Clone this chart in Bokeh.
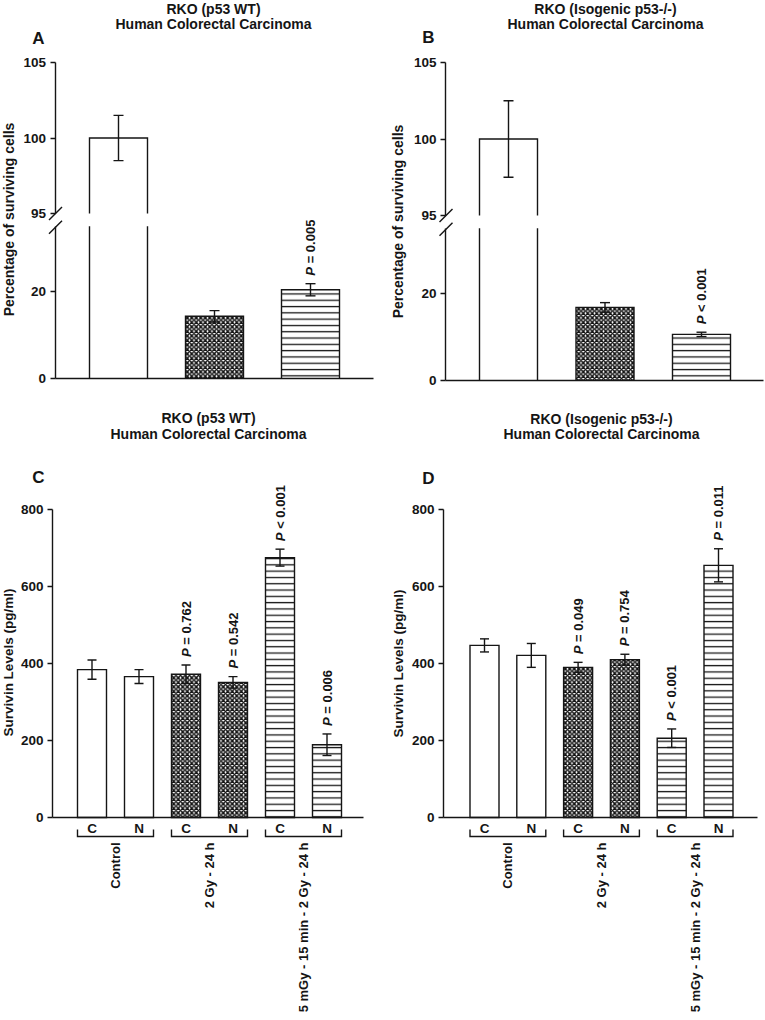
import math
from bokeh.plotting import figure
from bokeh.models import Range1d, LinearAxis, FixedTicker, ColumnDataSource, Whisker, TeeHead
from bokeh.core.properties import value
from bokeh.embed import file_html
from bokeh.resources import INLINE

# ---------------- data ----------------
cell_titles = ["RKO (p53 WT)", "RKO (Isogenic p53-/-)", "RKO (p53 WT)", "RKO (Isogenic p53-/-)"]
subtitle = "Human Colorectal Carcinoma"
panel_letters = ["A", "B", "C", "D"]

surv_ylabel = "Percentage of surviving cells"
surv_ticks_hi = [95, 100, 105]
surv_ticks_lo = [0, 20]
surv_break = [35, 95]          # top of lower segment, bottom of upper segment
surv_patterns = ["blank", "cross", "lines"]

A_values = [100.0, 14.3, 20.4]
A_errors = [1.5, 1.3, 1.4]
A_pvals = ["", "", "= 0.005"]

B_values = [100.0, 16.8, 10.6]
B_errors = [2.5, 1.1, 0.5]
B_pvals = ["", "", "< 0.001"]

svv_ylabel = "Survivin Levels (pg/ml)"
svv_ticks = [0, 200, 400, 600, 800]
groups = ["Control", "2 Gy - 24 h", "5 mGy - 15 min - 2 Gy - 24 h"]
subgroups = ["C", "N"]
svv_patterns = ["blank", "blank", "cross", "cross", "lines", "lines"]

C_values = [384, 366, 372, 351, 675, 189]
C_errors = [25, 18, 24, 15, 22, 28]
C_pvals = ["", "", "= 0.762", "= 0.542", "< 0.001", "= 0.006"]

D_values = [447, 421, 390, 410, 206, 655]
D_errors = [17, 31, 13, 14, 24, 43]
D_pvals = ["", "", "= 0.049", "= 0.754", "< 0.001", "= 0.011"]

# ---------------- layout (page pixels) ----------------
PW, PH = 765, 1020
X0, Y0 = 0, 0
INK = "#151515"
FONT = "Liberation Sans"
LW = 1.4
GAP = 8.0          # px between error bar top and P label
P_SHIFT = 12.3     # px width of "P " at 13px

LAY = {
    "A": dict(axis_x=54.5, c0=118, dx=96, w=58, x_end=373,
              lo=(0, 378, 20, 291), hi=(95, 213, 105, 62),
              title_x=213, title_y=(8, 23), letter=(38, 38), ylab=(8, 219)),
    "B": dict(axis_x=445, c0=508, dx=96.5, w=58, x_end=763,
              lo=(0, 380, 20, 293), hi=(95, 215, 105, 62),
              title_x=605, title_y=(8, 23), letter=(428, 37), ylab=(397, 221)),
    "C": dict(axis_x=52, c0=91.5, dx=47, w=29, x_end=363,
              y=(0, 817, 800, 509),
              title_x=208, title_y=(417, 433), letter=(38, 477), ylab=(8, 662)),
    "D": dict(axis_x=443, c0=484, dx=46.8, w=29, x_end=757,
              y=(0, 817, 800, 509),
              title_x=601, title_y=(418, 433), letter=(428, 478), ylab=(398, 663)),
}

HATCH = {"blank": ("blank", 1.0, 0.0),
         "cross": ("diagonal_cross", 4.5, 1.5),
         "lines": ("horizontal_line", 6.3, 1.3)}

p = figure(width=PW, height=PH, x_range=Range1d(X0, X0 + PW), y_range=Range1d(Y0 + PH, Y0),
           x_axis_location=None, y_axis_location=None, toolbar_location=None,
           output_backend="svg", min_border=0, outline_line_color=None, title=None)
for g in p.grid:
    g.visible = False
p.background_fill_color = "white"
p.border_fill_color = "white"


def yrange(cal):
    v0, p0, v1, p1 = cal
    s = (v1 - v0) / (p1 - p0)
    return Range1d(start=v0 + (Y0 + PH - p0) * s, end=v0 + (Y0 - p0) * s)


def up_per_px(cal):
    v0, p0, v1, p1 = cal
    return (v1 - v0) / (p0 - p1)


def px_of(v, cal):
    v0, p0, v1, p1 = cal
    return p0 + (v - v0) * (p1 - p0) / (v1 - v0)


def xrange_(L):
    return Range1d(start=(X0 - L["c0"]) / L["dx"], end=(X0 + PW - L["c0"]) / L["dx"])


def page_text(xs, ys, texts, size, angle=0.0, align="center", baseline="middle", style="bold"):
    p.text(x=xs, y=ys, text=texts, angle=angle, text_align=align, text_baseline=baseline,
           text_font=value(FONT), text_font_size=size, text_font_style=style, text_color=INK)


def bars(xr, yr, xs, bottoms, tops, pats, w, line=False):
    src = ColumnDataSource(dict(x=xs, b=bottoms, t=tops,
                                hp=[HATCH[k][0] for k in pats],
                                hs=[HATCH[k][1] for k in pats],
                                hw=[HATCH[k][2] for k in pats]))
    p.vbar(x="x", bottom="b", top="t", width=w, source=src, fill_color="white",
           line_color=INK if line else None, line_width=LW, line_join="miter",
           hatch_pattern="hp", hatch_scale="hs", hatch_weight="hw", hatch_color=INK,
           x_range_name=xr, y_range_name=yr)


def whiskers(xr, yr, xs, lows, highs, cap):
    if not xs:
        return
    src = ColumnDataSource(dict(x=xs, lo=lows, hi=highs))
    wk = Whisker(source=src, base="x", lower="lo", upper="hi", dimension="height",
                 line_color=INK, line_width=LW, level="overlay",
                 upper_head=TeeHead(size=cap, line_color=INK, line_width=LW),
                 lower_head=TeeHead(size=cap, line_color=INK, line_width=LW),
                 x_range_name=xr, y_range_name=yr)
    p.add_layout(wk)


def p_labels(xr, yr, xs, tops, texts, s_up):
    keep = [i for i, t in enumerate(texts) if t]
    if not keep:
        return
    base = [tops[i] + GAP * s_up for i in keep]
    common = dict(angle=math.pi / 2, text_align="left", text_baseline="middle",
                  text_font=value(FONT), text_font_size="13px", text_color=INK,
                  x_range_name=xr, y_range_name=yr)
    p.text(x=[xs[i] for i in keep], y=base, text=["P"] * len(keep),
           text_font_style="bold italic", **common)
    p.text(x=[xs[i] for i in keep], y=[b + P_SHIFT * s_up for b in base],
           text=[texts[i] for i in keep], text_font_style="bold", **common)


def style_axis(ax, tick_out=5):
    ax.axis_line_color = INK
    ax.axis_line_width = LW
    ax.major_tick_line_color = INK
    ax.major_tick_line_width = 1.3
    ax.major_tick_out = tick_out
    ax.major_tick_in = 0
    ax.minor_tick_out = 0
    ax.minor_tick_in = 0
    ax.major_label_text_font = FONT
    ax.major_label_text_font_style = "bold"
    ax.major_label_text_font_size = "13.5px"
    ax.major_label_text_color = INK
    ax.major_label_standoff = 4


def headings(i, L, ylabel, ylab_size):
    page_text([L["title_x"], L["title_x"]], list(L["title_y"]), [cell_titles[i], subtitle], "14px")
    page_text([L["letter"][0]], [L["letter"][1]], [panel_letters[i]], "17px")
    page_text([L["ylab"][0]], [L["ylab"][1]], [ylabel], ylab_size, angle=math.pi / 2)


def survival(i, key, vals, errs, pvals):
    L = LAY[key]
    xr, ylo, yhi = key + "x", key + "lo", key + "hi"
    p.extra_x_ranges[xr] = xrange_(L)
    p.extra_y_ranges[ylo] = yrange(L["lo"])
    p.extra_y_ranges[yhi] = yrange(L["hi"])
    n = len(vals)
    xs = list(range(n))
    w = L["w"] / L["dx"]
    blo, bhi = surv_break

    bars(xr, ylo, xs, [0] * n, [min(v, blo) for v in vals], surv_patterns, w)
    hi_idx = [k for k, v in enumerate(vals) if v > bhi]
    lo_idx = [k for k in xs if k not in hi_idx]
    bars(xr, yhi, hi_idx, [bhi] * len(hi_idx), [vals[k] for k in hi_idx],
         [surv_patterns[k] for k in hi_idx], w)

    lo_xs, lo_ys = [], []
    for k, v in enumerate(vals):
        l, r = k - w / 2, k + w / 2
        if v <= blo:
            lo_xs.append([l, l, r, r]); lo_ys.append([0, v, v, 0])
        else:
            lo_xs += [[l, l], [r, r]]; lo_ys += [[0, blo], [0, blo]]
    p.multi_line(lo_xs, lo_ys, line_color=INK, line_width=LW, line_join="miter",
                 x_range_name=xr, y_range_name=ylo)
    p.multi_line([[k - w / 2, k - w / 2, k + w / 2, k + w / 2] for k in hi_idx],
                 [[bhi, vals[k], vals[k], bhi] for k in hi_idx],
                 line_color=INK, line_width=LW, line_join="miter",
                 x_range_name=xr, y_range_name=yhi)

    whiskers(xr, ylo, lo_idx, [vals[k] - errs[k] for k in lo_idx], [vals[k] + errs[k] for k in lo_idx], 10)
    whiskers(xr, yhi, hi_idx, [vals[k] - errs[k] for k in hi_idx], [vals[k] + errs[k] for k in hi_idx], 10)
    tops = [v + e for v, e in zip(vals, errs)]
    p_labels(xr, ylo, xs, tops, [pvals[k] if k in lo_idx else "" for k in xs], up_per_px(L["lo"]))
    p_labels(xr, yhi, xs, tops, [pvals[k] if k in hi_idx else "" for k in xs], up_per_px(L["hi"]))

    ax_v = (L["axis_x"] - L["c0"]) / L["dx"]
    end_v = (L["x_end"] - L["c0"]) / L["dx"]
    ya = LinearAxis(x_range_name=xr, y_range_name=ylo, fixed_location=ax_v, bounds=(0, blo),
                    ticker=FixedTicker(ticks=surv_ticks_lo, minor_ticks=[]))
    yb = LinearAxis(x_range_name=xr, y_range_name=yhi, fixed_location=ax_v, bounds=(bhi, surv_ticks_hi[-1]),
                    ticker=FixedTicker(ticks=surv_ticks_hi, minor_ticks=[]))
    xa = LinearAxis(x_range_name=xr, y_range_name=ylo, fixed_location=0, bounds=(ax_v, end_v),
                    ticker=FixedTicker(ticks=[], minor_ticks=[]))
    for ax in (ya, yb):
        style_axis(ax)
        p.add_layout(ax, "left")
    style_axis(xa, tick_out=0)
    p.add_layout(xa, "below")

    # axis break marks
    ybh = px_of(bhi, L["hi"])
    ybl = px_of(blo, L["lo"]) + 1
    axp = L["axis_x"]
    p.segment(x0=[axp - 6, axp - 6], y0=[ybh + 6.5, ybl + 6.5], x1=[axp + 7, axp + 7], y1=[ybh - 6.5, ybl - 6.5],
              line_color=INK, line_width=LW)

    headings(i, L, surv_ylabel, "14px")


def survivin(i, key, vals, errs, pvals):
    L = LAY[key]
    xr, yr = key + "x", key + "y"
    p.extra_x_ranges[xr] = xrange_(L)
    p.extra_y_ranges[yr] = yrange(L["y"])
    s_up = up_per_px(L["y"])
    n = len(vals)
    xs = list(range(n))
    w = L["w"] / L["dx"]

    bars(xr, yr, xs, [0] * n, vals, svv_patterns, w, line=True)
    whiskers(xr, yr, xs, [v - e for v, e in zip(vals, errs)], [v + e for v, e in zip(vals, errs)], 9)
    p_labels(xr, yr, xs, [v + e for v, e in zip(vals, errs)], pvals, s_up)

    ax_v = (L["axis_x"] - L["c0"]) / L["dx"]
    end_v = (L["x_end"] - L["c0"]) / L["dx"]
    ya = LinearAxis(x_range_name=xr, y_range_name=yr, fixed_location=ax_v, bounds=(0, svv_ticks[-1]),
                    ticker=FixedTicker(ticks=svv_ticks, minor_ticks=[]))
    style_axis(ya)
    p.add_layout(ya, "left")
    xa = LinearAxis(x_range_name=xr, y_range_name=yr, fixed_location=0, bounds=(ax_v, end_v),
                    ticker=FixedTicker(ticks=xs, minor_ticks=[]),
                    major_label_overrides={k: subgroups[k % 2] for k in xs})
    style_axis(xa, tick_out=0)
    xa.major_label_standoff = 3
    p.add_layout(xa, "below")

    # group brackets and labels
    bx, by = [], []
    for g in range(len(groups)):
        l, r = 2 * g - w / 2, 2 * g + 1 + w / 2
        bx.append([l, l, r, r])
        by.append([-12 * s_up, -19 * s_up, -19 * s_up, -12 * s_up])
    p.multi_line(bx, by, line_color=INK, line_width=LW, line_join="miter",
                 x_range_name=xr, y_range_name=yr)
    p.text(x=[2 * g + 0.5 for g in range(len(groups))], y=[-25 * s_up] * len(groups), text=groups,
           angle=math.pi / 2, text_align="right", text_baseline="middle",
           text_font=value(FONT), text_font_size="13px", text_font_style="bold", text_color=INK,
           x_range_name=xr, y_range_name=yr)

    headings(i, L, svv_ylabel, "13.5px")


survival(0, "A", A_values, A_errors, A_pvals)
survival(1, "B", B_values, B_errors, B_pvals)
survivin(2, "C", C_values, C_errors, C_pvals)
survivin(3, "D", D_values, D_errors, D_pvals)

open("out.html", "w").write(file_html(p, INLINE))
